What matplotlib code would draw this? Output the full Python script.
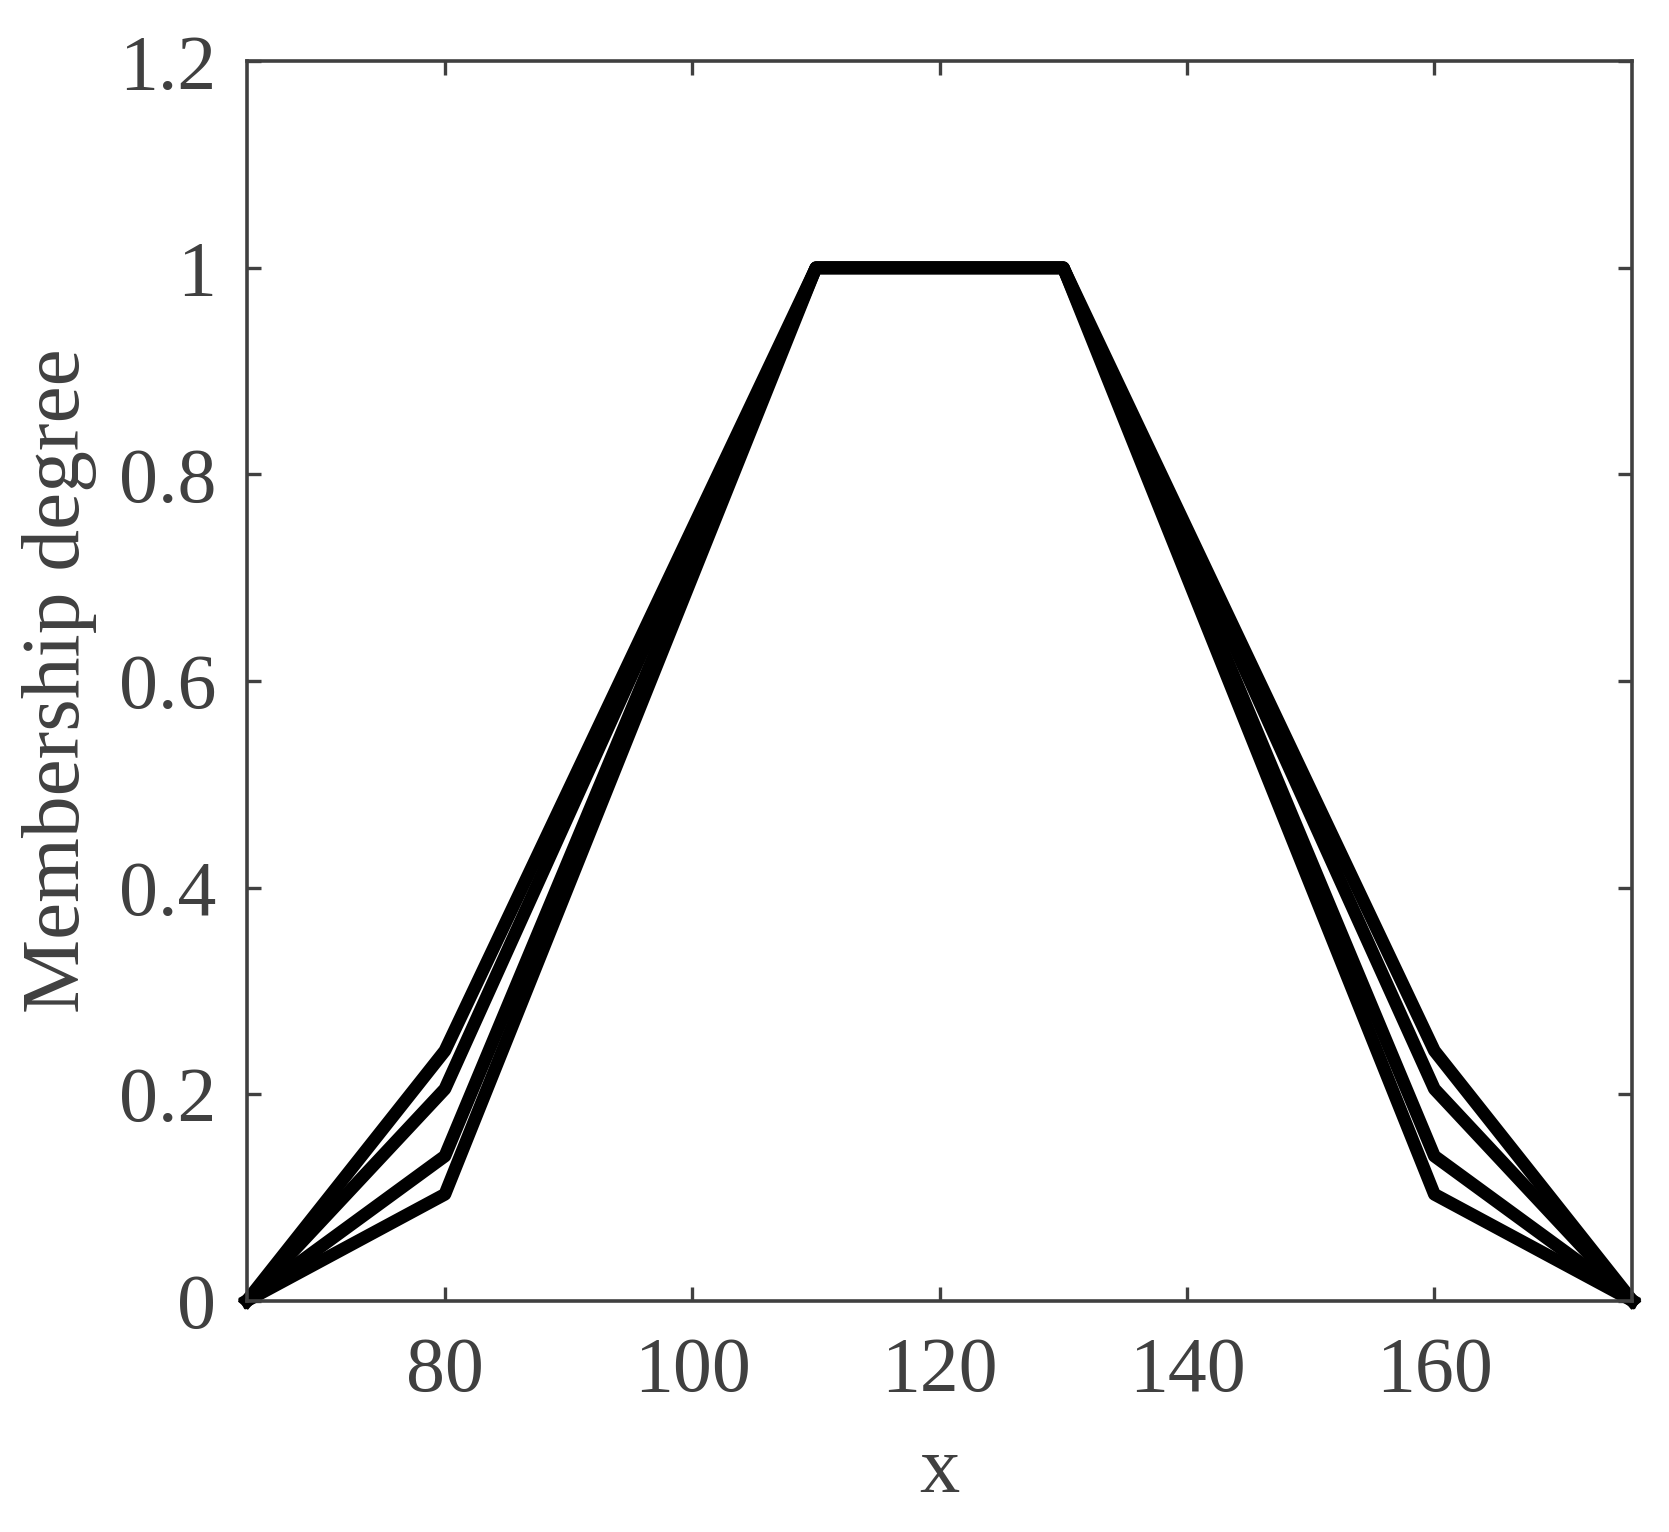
import numpy as np
import matplotlib
matplotlib.use('Agg')
import matplotlib.pyplot as plt

# 폰트 설정 (Times 계열)
matplotlib.rcParams['font.family'] = ['Liberation Serif', 'DejaVu Serif']

x = [64, 80, 110, 130, 160, 176]
mu1 = [0, 0.242, 1, 1, 0.242, 0]
mu2 = [0, 0.205, 1, 1, 0.205, 0]
mu3 = [0, 0.140, 1, 1, 0.140, 0]
mu4 = [0, 0.103, 1, 1, 0.103, 0]

xticks = [80, 100, 120, 140, 160]
yticks = [0, 0.2, 0.4, 0.6, 0.8, 1, 1.2]
ytick_labels = ['0', '0.2', '0.4', '0.6', '0.8', '1', '1.2']

gray = '#404040'

fig = plt.figure(figsize=(16.69, 15.32), dpi=100)
ax = fig.add_axes([0.148, 0.151, 0.830, 0.809])

for mu in [mu1, mu2, mu3, mu4]:
    ax.plot(x, mu, color='black', linewidth=9.2, solid_joinstyle='round', clip_on=False)

ax.set_xlim(64, 176)
ax.set_ylim(0, 1.2)
ax.set_xticks(xticks)
ax.set_yticks(yticks)
ax.set_yticklabels(ytick_labels)

ax.tick_params(direction='in', length=10, width=2.4, color=gray, labelcolor=gray,
               labelsize=56, top=True, right=True)
ax.tick_params(axis='x', pad=26)
ax.tick_params(axis='y', pad=22)
for s in ax.spines.values():
    s.set_color(gray)
    s.set_linewidth(2.6)

ax.set_xlabel('x', fontsize=58, color=gray, labelpad=20)
ax.set_ylabel('Membership degree', fontsize=60, color=gray, labelpad=16)

plt.savefig('out.png', dpi=100)
